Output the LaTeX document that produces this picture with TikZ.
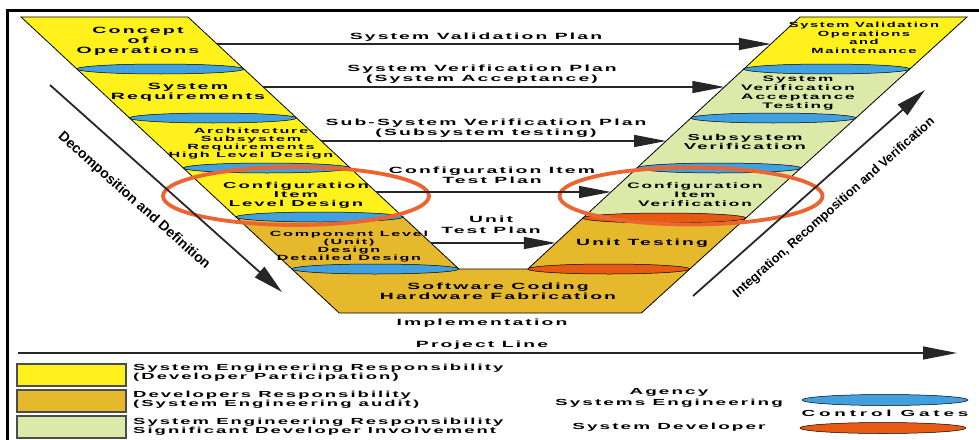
\documentclass[tikz,border=0pt]{standalone}
\usepackage{fontspec}
\usepackage{graphicx}
\setmainfont{Liberation Sans}
\newfontfamily\wf{Liberation Sans}[LetterSpace=11]
\newfontfamily\wfc{Liberation Sans}[LetterSpace=20]
\newfontfamily\nf{Liberation Sans}
\usetikzlibrary{arrows.meta,shapes.geometric}
\definecolor{vyellow}{HTML}{FFF21C}
\definecolor{vgold}{HTML}{E6B92D}
\definecolor{vgreen}{HTML}{DDE9A8}
\definecolor{gblue}{HTML}{40A0E0}
\definecolor{gorange}{HTML}{E65A14}
\definecolor{ringred}{HTML}{EB6432}
% wide bold label: #1 horizontal stretch, #2 size, #3 line skip, #4 lines
\newcommand\tx[4]{\scalebox{#1}[1]{\fontsize{#2}{#3}\selectfont\begin{tabular}{@{}c@{}}#4\end{tabular}}}
\newcommand\tlft[4]{\scalebox{#1}[1]{\fontsize{#2}{#3}\selectfont\begin{tabular}{@{}l@{}}#4\end{tabular}}}
\begin{document}
\begin{tikzpicture}[x=1pt,y=-1pt,
  shell/.style={draw=black, line width=0.8pt, line join=miter},
  gate/.style={ellipse, draw=black, line width=0.5pt, inner sep=0, minimum height=10pt},
  ring/.style={ellipse, draw=ringred, line width=3.8pt, inner sep=0},
  plan/.style={draw=black!85, line width=1.3pt, -{Triangle[length=32pt,width=12pt]}},
  flow/.style={draw=black!85, line width=1.8pt, -{Triangle[length=30pt,width=14pt]}},
  lbl/.style={inner sep=0, font=\wf\bfseries},
  rot/.style={inner sep=0, font=\nf\bfseries},
  key/.style={draw=black!70, line width=1.2pt, minimum width=109pt, minimum height=22pt, inner sep=0},
]
\useasboundingbox (0,0) rectangle (979,439);

% frame
\draw[line width=3pt] (7,445) -- (7,10) -- (985,10);

% left leg (decomposition)
\draw[shell, fill=vyellow] (21,17) -- (188,17) -- (403,217) -- (236,217) -- cycle;
% right leg upper part
\draw[shell, fill=vyellow] (800,17) -- (967,17) -- (909.8,69) -- (743.8,69) -- cycle;
\draw[shell, fill=vgreen] (743.8,69) -- (909.8,69) -- (745.9,218) -- (582.9,218) -- cycle;
% developer part: component level, implementation, unit testing
\draw[shell, fill=vgold] (236,217) -- (403,217) -- (458.9,269) -- (527.8,269)
  -- (582.9,218) -- (745.9,218) -- (641.4,313) -- (339.2,313) -- cycle;

% control gates, left leg
\node[gate, fill=gblue, minimum width=167pt] (gL1) at (160.4,69) {};
\node[gate, fill=gblue, minimum width=167pt] (gL2) at (213.1,118) {};
\node[gate, fill=gblue, minimum width=167pt] (gL3) at (266.8,168) {};
\node[gate, fill=gblue, minimum width=167pt] (gL4) at (319.5,217) {};
\node[gate, fill=gblue, minimum width=167pt] (gL5) at (375.4,269) {};
% control gates, right leg
\node[gate, fill=gblue, minimum width=166pt] (gR1) at (826.8,69) {};
\node[gate, fill=gblue, minimum width=165pt] (gR2) at (773.4,118) {};
\node[gate, fill=gblue, minimum width=164pt] (gR3) at (718.9,168) {};
\node[gate, fill=gorange, minimum width=163pt] (gR4) at (664.4,218) {};
\node[gate, fill=gorange, minimum width=162pt] (gR5) at (608.8,269) {};

% stage labels, left leg
\node[lbl] (concept) at (138,41) {\tx{2.15}{9.1}{10}{Concept\\of\\Operations}};
\node[lbl] (sysreq) at (188,92.5) {\tx{2.15}{9.1}{9.5}{System\\Requirements}};
\node[lbl] (arch) at (251,144) {\tx{2.15}{7.5}{8}{Architecture\\Subsystem\\Requirements\\High Level Design}};
\node[lbl] (cild) at (296,196) {\tx{2.15}{8.6}{9}{Configuration\\Item\\Level Design}};
\node[lbl] (comp) at (349,247) {\tx{2.15}{7.5}{8}{Component Level\\(Unit)\\Design\\Detailed Design}};
\node[lbl] (code) at (498,292) {\tx{2.15}{9}{10}{Software Coding\\Hardware Fabrication}};
% stage labels, right leg
\node[lbl] (valid) at (864,39) {\tx{1.96}{7.5}{8.5}{System Validation\\Operations\\and\\Maintenance}};
\node[lbl] (sysver) at (798,93) {\tx{2.15}{8}{9}{System\\Verification\\Acceptance\\Testing}};
\node[lbl] (subver) at (745,143) {\tx{2.15}{8.6}{9}{Subsystem\\Verification}};
\node[lbl] (civer) at (695,196) {\tx{2.15}{8}{9}{Configuration\\Item\\Verification}};
\node[lbl] (unit) at (642,243) {\tx{2.15}{9}{10}{Unit Testing}};

\node[lbl] (impl) at (482,323) {\tx{2.15}{9}{10}{Implementation}};

% highlighted configuration item level
\node[ring, minimum width=266pt, minimum height=58pt] (ringL) at (296,196) {};
\node[ring, minimum width=263pt, minimum height=57pt] (ringR) at (691,196) {};

% plan connectors between the legs
\coordinate (p1s) at (217,44);    \coordinate (p1e) at (770.8,44);
\coordinate (p2s) at (263.3,87);  \coordinate (p2e) at (724.4,87);
\coordinate (p3s) at (321.3,141); \coordinate (p3e) at (666.1,141);
\coordinate (p4s) at (376.1,192); \coordinate (p4e) at (611,192);
\coordinate (p5s) at (430.9,243); \coordinate (p5e) at (555.9,243);
\draw[plan] (p1s) -- (p1e);
\draw[plan] (p2s) -- (p2e);
\draw[plan] (p3s) -- (p3e);
\draw[plan] (p4s) -- (p4e);
\draw[plan] (p5s) -- (p5e);
\node[lbl] (pl1) at (476,37) {\tx{2.15}{9}{10}{System Validation Plan}};
\node[lbl] (pl2) at (482,74) {\tx{2.15}{9}{10}{System Verification Plan\\(System Acceptance)}};
\node[lbl] (pl3) at (486,128) {\tx{2.15}{9}{10}{Sub-System Verification Plan\\(Subsystem testing)}};
\node[lbl] (pl4) at (492,176.5) {\tx{2.15}{9}{9.5}{Configuration Item\\Test Plan}};
\node[lbl] (pl5) at (491,225.5) {\tx{2.15}{9}{11}{Unit\\Test Plan}};

% direction arrows along the legs
\coordinate (dA) at (50,85);  \coordinate (dB) at (282,292);
\coordinate (iA) at (693,296); \coordinate (iB) at (925,90);
\draw[flow] (dA) -- (dB);
\draw[flow] (iA) -- (iB);
\node[rot, rotate=-41.7] (dtext) at (134,201) {\fontsize{14}{14}\selectfont Decomposition and Definition};
\node[rot, rotate=41.6] (itext) at (834,208) {\fontsize{12.8}{14}\selectfont Integration, Recomposition and Verification};

% project line
\coordinate (plA) at (18,353); \coordinate (plB) at (957,353);
\draw[flow, line width=1.5pt, -{Triangle[length=34pt,width=13pt]}] (plA) -- (plB);
\node[lbl] (plt) at (482,345) {\tx{2.15}{9}{10}{Project Line}};

% legend
\node[key, fill=vyellow] (k1) at (71.5,375) {};
\node[key, fill=vgold] (k2) at (71.5,401) {};
\node[key, fill=vgreen] (k3) at (71.5,427) {};
\node[lbl, anchor=west] (k1t) at (133,373.5) {\tlft{2.1}{8.8}{9}{System Engineering Responsibility\\(Developer Participation)}};
\node[lbl, anchor=west] (k2t) at (133,400) {\tlft{2.1}{8.8}{9}{Developers Responsibility\\(System Engineering audit)}};
\node[lbl, anchor=west] (k3t) at (133,427.5) {\tlft{2.1}{8.8}{9}{System Engineering Responsibility\\Significant Developer Involvement}};
\node[lbl] (agt) at (669,397.5) {\tx{2.15}{8.8}{11}{Agency\\Systems Engineering}};
\node[lbl] (dvt) at (669,427) {\tx{2.15}{8.8}{10}{System Developer}};
\node[gate, fill=gblue, minimum width=166pt, minimum height=11pt] (kb) at (885,400) {};
\node[gate, fill=gorange, minimum width=166pt, minimum height=11pt] (ko) at (883,428) {};
\node[lbl, font=\wfc\bfseries] (cg) at (885,414) {\tx{2.15}{8.8}{10}{Control Gates}};
\end{tikzpicture}
\end{document}
